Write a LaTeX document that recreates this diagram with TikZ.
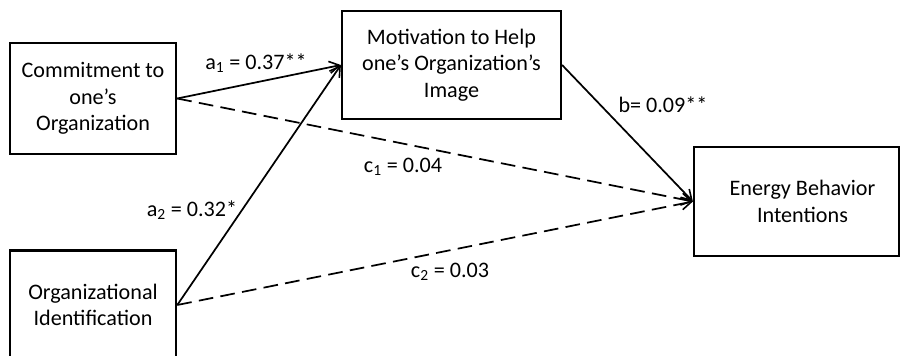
\documentclass[tikz,border=0pt]{standalone}
\usepackage{fontspec}
\setmainfont{Carlito}
\usetikzlibrary{arrows.meta}
\begin{document}
\begin{tikzpicture}[x=0.75pt,y=-0.75pt,
  box/.style={draw,line width=1.9pt,align=center,inner sep=0pt,
    font=\fontsize{16.6}{19.8}\selectfont},
  conn/.style={line width=1.3pt,-{Straight Barb[length=7.5pt,width=9pt,line width=1.2pt]}},
  dconn/.style={conn,dash pattern=on 11pt off 5.5pt},
  lab/.style={font=\fontsize{16.6}{19.8}\selectfont,inner sep=0pt}]
\useasboundingbox (0,0) rectangle (901,356);
\node[box,minimum width=124.5pt,minimum height=83pt] (com) at (93,98.5) {Commitment to\\one’s\\Organization};
\node[box,minimum width=124.5pt,minimum height=82pt] (oid) at (93,305) {Organizational\\Identification};
\node[box,minimum width=164pt,minimum height=81pt] (mot) at (451.5,65) {Motivation to Help\\one’s Organization’s\\Image};
\node[box,minimum width=153.5pt,minimum height=82pt] (ebi) at (796.5,201.5) {\hspace*{9pt}Energy Behavior\\\hspace*{9pt}Intentions};
\coordinate (tip) at (ebi.west);
\draw[conn] (com.east) -- (mot.west);
\draw[conn] (oid.east) -- (mot.west);
\draw[conn] (mot.east) -- (tip);
\draw[dconn] (com.east) -- (tip);
\draw[dconn] (oid.east) -- (tip);
\node[lab] (la1) at (256,63) {a\textsubscript{1} = 0.37**};
\node[lab] (la2) at (192,210) {a\textsubscript{2} = 0.32*};
\node[lab] (lb) at (663,105) {b= 0.09**};
\node[lab] (lc1) at (403,167) {c\textsubscript{1} = 0.04};
\node[lab] (lc2) at (450,272) {c\textsubscript{2} = 0.03};
\end{tikzpicture}
\end{document}
